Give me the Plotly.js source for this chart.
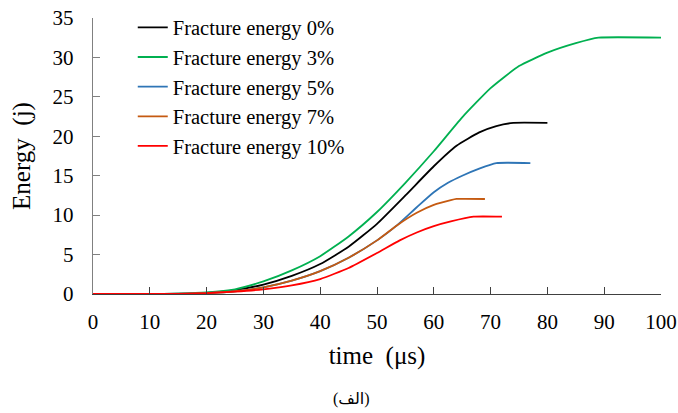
<!DOCTYPE html>
<html>
<head>
<meta charset="utf-8">
<script src="https://cdn.plot.ly/plotly-3.0.1.min.js"></script>
<style>html,body{margin:0;padding:0;background:#fff;} #chart{width:678px;height:413px;}</style>
</head>
<body>
<div id="chart"></div>
<script>
const seriesNames = ["Fracture energy 0%", "Fracture energy 3%", "Fracture energy 5%", "Fracture energy 7%", "Fracture energy 10%"];
const seriesColors = ["#000000", "#00B050", "#2E75B6", "#C55A11", "#FF0000"];

const time0 = [0, 10, 15, 20, 25, 30, 35, 40, 45, 50, 55, 60, 64, 68, 71, 74, 80];
const energy0 = [0, 0, 0.03, 0.15, 0.5, 1.2, 2.3, 3.8, 6.0, 8.9, 12.5, 16.2, 18.8, 20.5, 21.3, 21.7, 21.7];

const time3 = [0, 10, 15, 20, 25, 30, 35, 40, 45, 50, 55, 60, 65, 70, 75, 80, 85, 89, 100];
const energy3 = [0, 0, 0.05, 0.2, 0.6, 1.6, 3.0, 4.8, 7.3, 10.4, 14.1, 18.1, 22.4, 26.1, 28.9, 30.6, 31.8, 32.5, 32.5];

const time5 = [0, 10, 15, 20, 25, 30, 35, 40, 45, 50, 53.5, 57, 60, 62.5, 65, 68, 71, 77];
const energy5 = [0, 0, 0.02, 0.12, 0.35, 0.85, 1.7, 2.9, 4.6, 6.8, 8.7, 11.0, 12.9, 14.1, 15.0, 15.9, 16.6, 16.6];

const time7 = [0, 10, 15, 20, 25, 30, 35, 40, 45, 50, 53.5, 57, 60, 63, 64, 69];
const energy7 = [0, 0, 0.02, 0.12, 0.35, 0.85, 1.7, 2.9, 4.6, 6.8, 8.7, 10.3, 11.3, 11.9, 12.05, 12.05];

const time10 = [0, 10, 15, 20, 25, 30, 35, 40, 45, 50, 54, 57, 60, 63, 67, 72];
const energy10 = [0, 0, 0.01, 0.1, 0.3, 0.6, 1.1, 1.9, 3.3, 5.2, 6.8, 7.8, 8.6, 9.2, 9.8, 9.8];

const xTicks = [0, 10, 20, 30, 40, 50, 60, 70, 80, 90, 100];
const yTicks = [0, 5, 10, 15, 20, 25, 30, 35];

const times = [time0, time3, time5, time7, time10];
const energies = [energy0, energy3, energy5, energy7, energy10];

const FONT = "Liberation Serif, Times New Roman, DejaVu Serif, DejaVu Sans, serif";

const traces = seriesNames.map((n, i) => ({
  x: times[i], y: energies[i], name: n, type: "scatter", mode: "lines",
  line: {color: seriesColors[i], width: 1.8, shape: "spline", smoothing: 0.5}
}));

const layout = {
  width: 678, height: 413,
  margin: {l: 93, r: 17, t: 18, b: 119, autoexpand: false},
  paper_bgcolor: "#fff", plot_bgcolor: "#fff",
  font: {family: FONT, size: 21, color: "#000"},
  showlegend: true,
  legend: {x: 0.07, y: 1.038, xanchor: "left", yanchor: "top", bgcolor: "rgba(0,0,0,0)",
           font: {family: FONT, size: 20.5, color: "#000"}, tracegroupgap: 0, itemwidth: 30},
  xaxis: {range: [0, 100], tickvals: xTicks, ticktext: xTicks.map(String),
          ticks: "inside", ticklen: 7, tickcolor: "#404040", showline: true, linecolor: "#404040", linewidth: 1.3,
          showgrid: false, zeroline: false, tickfont: {family: FONT, size: 21}, ticklabelstandoff: 8,
          title: {text: "time  (μs)", font: {family: FONT, size: 25}, standoff: 14}},
  yaxis: {range: [0, 35], tickvals: yTicks, ticktext: yTicks.map(String),
          ticks: "inside", ticklen: 7, tickcolor: "#808080", showline: true, linecolor: "#808080", linewidth: 1.3,
          showgrid: false, zeroline: false, tickfont: {family: FONT, size: 21}, ticklabelstandoff: 14,
          title: {text: "Energy  (j)", font: {family: FONT, size: 25}, standoff: 14}},
  annotations: [{text: "(الف)", xref: "paper", yref: "paper", x: 0.455, y: -0.38, showarrow: false,
                 xanchor: "center", yanchor: "middle", font: {family: FONT, size: 16, color: "#000"}}]
};

Plotly.newPlot("chart", traces, layout, {displayModeBar: false, staticPlot: true});
</script>
</body>
</html>
